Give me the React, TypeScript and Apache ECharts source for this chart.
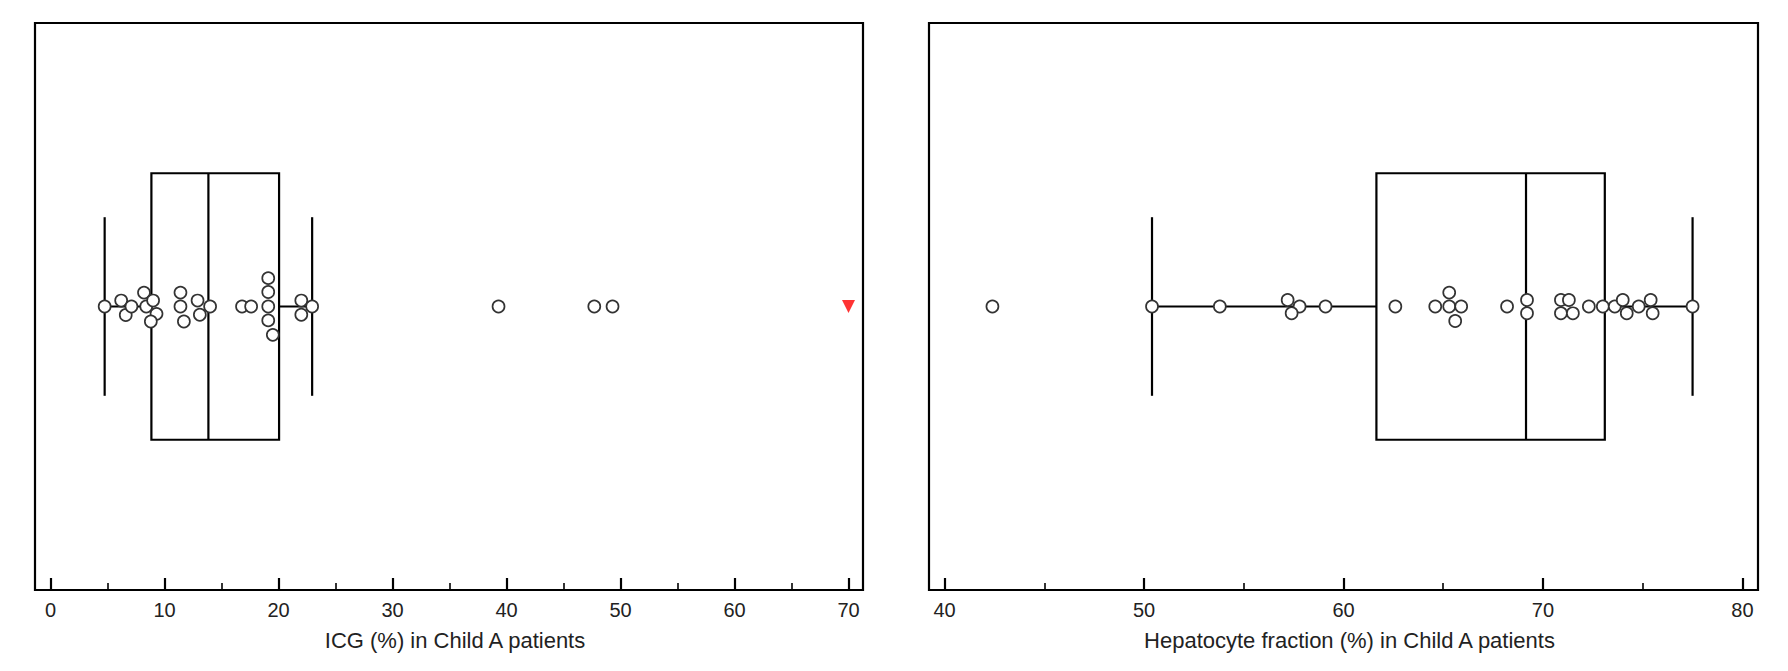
import React, { useEffect, useRef } from "react";
import * as echarts from "echarts";

// ---- Data ----
const ICG_VALUES = [4.75, 6.2, 6.6, 7.1, 8.2, 8.4, 9.0, 9.3, 8.8, 11.4, 11.4, 11.7, 12.9, 13.1, 14.0, 16.8, 17.6, 19.1, 19.1, 19.1, 19.1, 19.5, 22.0, 22.0, 22.95, 39.3, 47.7, 49.3];
const ICG_JITTER = [0, 0.021, -0.03, 0, 0.049, 0, 0.021, -0.026, -0.053, 0.049, 0, -0.053, 0.021, -0.029, 0, 0, 0, 0.1, 0.051, 0, -0.049, -0.1, 0.021, -0.029, 0, 0, 0, 0];
const ICG_BOX = [4.75, 8.85, 13.85, 20.05, 22.95]; // low whisker, Q1, median, Q3, high whisker
const ICG_OFFSCALE = [70];
const ICG_TICKS = [0, 10, 20, 30, 40, 50, 60, 70];
const ICG_MINOR = [5, 15, 25, 35, 45, 55, 65];

const HEP_VALUES = [42.4, 50.4, 53.8, 57.2, 57.8, 57.4, 59.1, 62.6, 64.6, 65.3, 65.3, 65.9, 65.6, 68.2, 69.2, 69.2, 70.9, 71.3, 70.9, 71.5, 72.3, 73.0, 73.6, 74.0, 74.2, 74.8, 75.4, 75.5, 77.5];
const HEP_JITTER = [0, 0, 0, 0.023, 0, -0.024, 0, 0, 0, 0.049, 0, 0, -0.051, 0, 0.023, -0.024, 0.023, 0.023, -0.024, -0.024, 0, 0, 0, 0.023, -0.024, 0, 0.023, -0.024, 0];
const HEP_BOX = [50.4, 61.65, 69.15, 73.1, 77.5];
const HEP_TICKS = [40, 50, 60, 70, 80];
const HEP_MINOR = [45, 55, 65, 75];

const ICG_NAME = "ICG (%) in Child A patients";
const HEP_NAME = "Hepatocyte fraction (%) in Child A patients";

const FONT = "'Liberation Sans', Arial, sans-serif";
const BOX_HALF = 0.47;
const CAP_HALF = 0.315;
const LW = 2.2;

function makeXAxes(gridIndex: number, min: number, max: number, major: number[], minor: number[], name: string) {
  return [
    {
      type: "value",
      gridIndex,
      min,
      max,
      position: "bottom",
      name,
      nameLocation: "middle",
      nameGap: 39,
      nameTextStyle: { fontSize: 22, color: "#222", fontFamily: FONT, padding: [0, 0, 0, 12] },
      axisLine: { show: true, onZero: false, lineStyle: { color: "#000", width: LW } },
      axisTick: { show: true, inside: true, length: 12, customValues: major, lineStyle: { color: "#000", width: LW } },
      axisLabel: { show: true, customValues: major, margin: 10, fontSize: 20, color: "#222", fontFamily: FONT },
      splitLine: { show: false },
    },
    {
      type: "value",
      gridIndex,
      min,
      max,
      position: "bottom",
      axisLine: { show: false, onZero: false },
      axisTick: { show: true, inside: true, length: 7, customValues: minor, lineStyle: { color: "#000", width: 1.6 } },
      axisLabel: { show: false },
      splitLine: { show: false },
    },
  ];
}

function boxRender(params: any, api: any) {
  const lo = api.value(0);
  const q1 = api.value(1);
  const med = api.value(2);
  const q3 = api.value(3);
  const hi = api.value(4);
  const cy = api.coord([lo, 0])[1];
  const boxTop = api.coord([q1, BOX_HALF])[1];
  const boxBot = api.coord([q1, -BOX_HALF])[1];
  const capTop = api.coord([lo, CAP_HALF])[1];
  const capBot = api.coord([lo, -CAP_HALF])[1];
  const xLo = api.coord([lo, 0])[0];
  const xQ1 = api.coord([q1, 0])[0];
  const xMed = api.coord([med, 0])[0];
  const xQ3 = api.coord([q3, 0])[0];
  const xHi = api.coord([hi, 0])[0];
  const st = { stroke: "#000", lineWidth: LW, fill: null };
  return {
    type: "group",
    children: [
      { type: "line", shape: { x1: xLo, y1: cy, x2: xQ1, y2: cy }, style: st },
      { type: "line", shape: { x1: xQ3, y1: cy, x2: xHi, y2: cy }, style: st },
      { type: "line", shape: { x1: xLo, y1: capTop, x2: xLo, y2: capBot }, style: st },
      { type: "line", shape: { x1: xHi, y1: capTop, x2: xHi, y2: capBot }, style: st },
      { type: "rect", shape: { x: xQ1, y: boxTop, width: xQ3 - xQ1, height: boxBot - boxTop }, style: { stroke: "#000", lineWidth: LW, fill: "rgba(0,0,0,0)" } },
      { type: "line", shape: { x1: xMed, y1: boxTop, x2: xMed, y2: boxBot }, style: st },
    ],
  };
}

const pointStyle = { color: "#fff", borderColor: "#333", borderWidth: 1.7, opacity: 1 };

export default function App() {
  const ref = useRef<HTMLDivElement>(null);
  useEffect(() => {
    if (!ref.current) return;
    const chart = echarts.init(ref.current, null, { renderer: "svg" });
    const icgPts = ICG_VALUES.map((v, i) => [v, ICG_JITTER[i]]);
    const hepPts = HEP_VALUES.map((v, i) => [v, HEP_JITTER[i]]);
    const offPts = ICG_OFFSCALE.map((v) => [v, 0]);
    chart.setOption({
      animation: false,
      backgroundColor: "#fff",
      grid: [
        { left: 35, right: 925, top: 23, bottom: 81, show: true, borderColor: "#000", borderWidth: LW, backgroundColor: "transparent" },
        { left: 929, right: 30, top: 23, bottom: 81, show: true, borderColor: "#000", borderWidth: LW, backgroundColor: "transparent" },
      ],
      xAxis: [
        ...makeXAxes(0, -1.36, 71.27, ICG_TICKS, ICG_MINOR, ICG_NAME),
        ...makeXAxes(1, 39.22, 80.78, HEP_TICKS, HEP_MINOR, HEP_NAME),
      ],
      yAxis: [
        { type: "value", gridIndex: 0, min: -1, max: 1, show: false, axisLine: { onZero: false } },
        { type: "value", gridIndex: 1, min: -1, max: 1, show: false, axisLine: { onZero: false } },
      ],
      series: [
        { type: "custom", xAxisIndex: 0, yAxisIndex: 0, renderItem: boxRender, data: [ICG_BOX], z: 2, silent: true },
        { type: "custom", xAxisIndex: 2, yAxisIndex: 1, renderItem: boxRender, data: [HEP_BOX], z: 2, silent: true },
        { type: "scatter", xAxisIndex: 0, yAxisIndex: 0, data: icgPts, symbol: "circle", symbolSize: 12, itemStyle: pointStyle, z: 5 },
        { type: "scatter", xAxisIndex: 2, yAxisIndex: 1, data: hepPts, symbol: "circle", symbolSize: 12, itemStyle: pointStyle, z: 5 },
        { type: "scatter", xAxisIndex: 0, yAxisIndex: 0, data: offPts, symbol: "triangle", symbolRotate: 180, symbolSize: 13, itemStyle: { color: "#ff0000" }, z: 5 },
      ],
    });
    return () => chart.dispose();
  }, []);
  return <div ref={ref} style={{ position: "absolute", left: 0, top: 0, width: 1788, height: 671 }} />;
}
